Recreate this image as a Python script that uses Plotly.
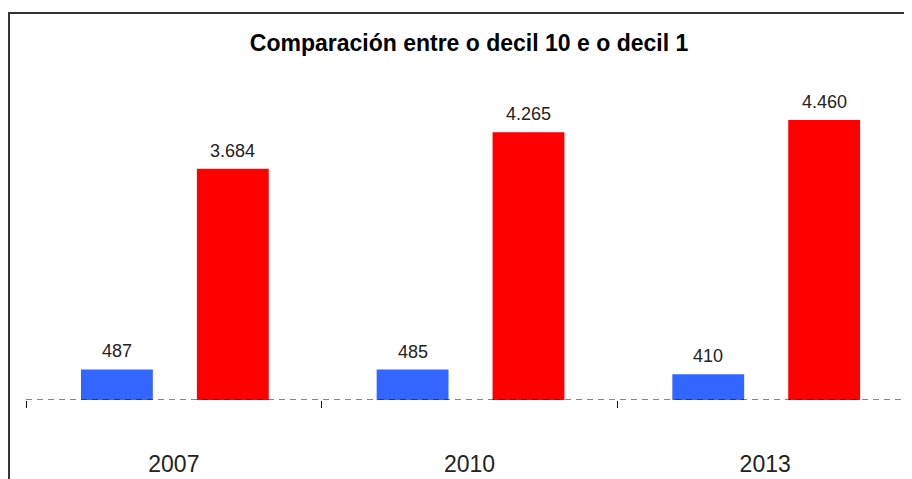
import plotly.graph_objects as go

years = ['2007', '2010', '2013']
decil_1 = [487, 485, 410]
decil_10 = [3684, 4265, 4460]

fig = go.Figure()
fig.add_bar(x=years, y=decil_1, name='Decil 1', marker_color='#3366FF',
            width=0.243, offset=-0.314, marker_line_width=0)
fig.add_bar(x=years, y=decil_10, name='Decil 10', marker_color='#FF0000',
            width=0.243, offset=0.078, marker_line_width=0)

# value labels above each bar (thousands separated with '.')
# x given as category index, numeric-looking names would be misread
for vals, xs in [(decil_1, -57), (decil_10, 59)]:
    for i, v in enumerate(vals):
        fig.add_annotation(x=i, y=v, text=f'{v:,}'.replace(',', '.'),
                           xshift=xs, yshift=6, yanchor='bottom',
                           showarrow=False,
                           font=dict(size=18, color='#222222'))

# dashed baseline + chart frame
fig.add_shape(type='line', xref='paper', yref='y', x0=0, x1=1, y0=0, y1=0,
              line=dict(color='#111111', width=1, dash='6px,5px'))
fig.add_shape(type='rect', xref='paper', yref='paper', x0=-0.0192, x1=1.2,
              y0=-0.5, y1=1.2325, line=dict(color='#333333', width=2))

fig.update_layout(
    width=912, height=479,
    margin=dict(l=18, r=7, t=78, b=87),
    paper_bgcolor='white', plot_bgcolor='white',
    font=dict(family='Liberation Sans, Arial, sans-serif', color='#222222'),
    showlegend=False,
    title=dict(text='<b>Comparación entre o decil 10 e o decil 1</b>',
               x=0.5055, xanchor='center', y=1 - 35 / 479, yanchor='middle',
               yref='container', font=dict(size=23, color='black')),
)
fig.update_xaxes(type='category', range=[-0.5, 2.5], showgrid=False,
                 showline=False, tickson='boundaries', ticks='outside',
                 ticklen=7, tickcolor='#111111', tickwidth=1,
                 tickfont=dict(size=23, color='#222222'),
                 ticklabelstandoff=48)
fig.update_yaxes(range=[0, 5000], visible=False, showgrid=False)

fig.write_html('out.html')
